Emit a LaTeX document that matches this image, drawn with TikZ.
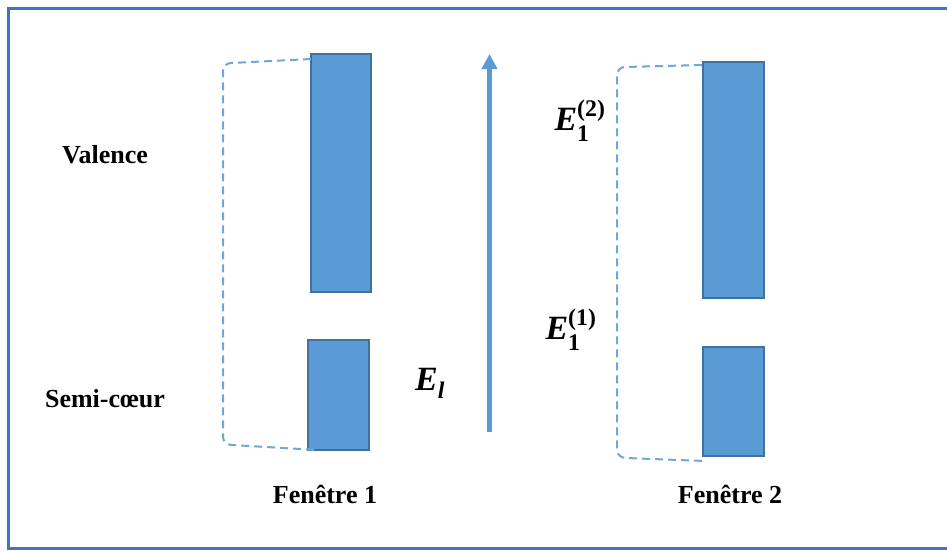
\documentclass[tikz,border=0pt]{standalone}
\usepackage{amsmath}
\usepackage{fontspec}
\setmainfont{Liberation Serif}
\usetikzlibrary{arrows.meta}
\definecolor{frameblue}{HTML}{4472C4}
\definecolor{fillblue}{HTML}{5B9BD5}
\definecolor{edgeblue}{HTML}{41719C}
\definecolor{dashblue}{HTML}{6FA6DC}
\newcommand{\bE}{\textbf{\textit{E}}}
\tikzset{
  band/.style={draw=edgeblue, fill=fillblue, line width=2.5pt},
  bracket/.style={draw=dashblue, line width=2pt, dash pattern=on 8pt off 5pt},
  lbl/.style={font=\fontsize{26}{30}\selectfont\bfseries, anchor=base, inner sep=0pt},
  mlbl/.style={font=\fontsize{34}{38}\selectfont, inner sep=0pt}
}
\begin{document}
\begin{tikzpicture}[x=1pt,y=-1pt]
\useasboundingbox (0,0) rectangle (947,550);
% frame
\draw[frameblue, line width=3pt] (960,8.5) -- (8.5,8.5) -- (8.5,548) -- (960,548);
% bands Fenetre 1
\path[band] (311,54) rectangle (371,292);
\path[band] (308,340) rectangle (369,450);
% bands Fenetre 2
\path[band] (703,62) rectangle (764,298);
\path[band] (703,347) rectangle (764,456);
% brackets
\coordinate (b1a) at (311,59);
\coordinate (b1b) at (317,450);
\draw[bracket] (b1a) -- (231,63) to[out=180,in=90] (223,71) -- (223,437) to[out=-90,in=180] (232,445) -- (b1b);
\coordinate (b2a) at (702,65);
\coordinate (b2b) at (705,461);
\draw[bracket] (b2a) -- (625,67) to[out=180,in=90] (617,75) -- (617,450) to[out=-90,in=180] (626,458) -- (b2b);
% arrow
\coordinate (ar0) at (489.5,432);
\coordinate (ar1) at (489.5,54);
\draw[fillblue, line width=4.5pt, -{Triangle[length=15pt,width=15pt]}] (ar0) -- (ar1);
% labels
\node[lbl] (val) at (105,163) {Valence};
\node[lbl] (semi) at (105,407) {Semi-cœur};
\node[lbl] (f1) at (325,503) {Fenêtre 1};
\node[lbl] (f2) at (730,503) {Fenêtre 2};
\node[mlbl] (el) at (430,383) {$\bE_{\textbf{\textit{l}}}$};
\node[mlbl] (e2) at (580,121) {$\bE_{\textbf{1}}^{\textbf{(2)}}$};
\node[mlbl] (e1) at (571,330) {$\bE_{\textbf{1}}^{\textbf{(1)}}$};
\end{tikzpicture}
\end{document}
